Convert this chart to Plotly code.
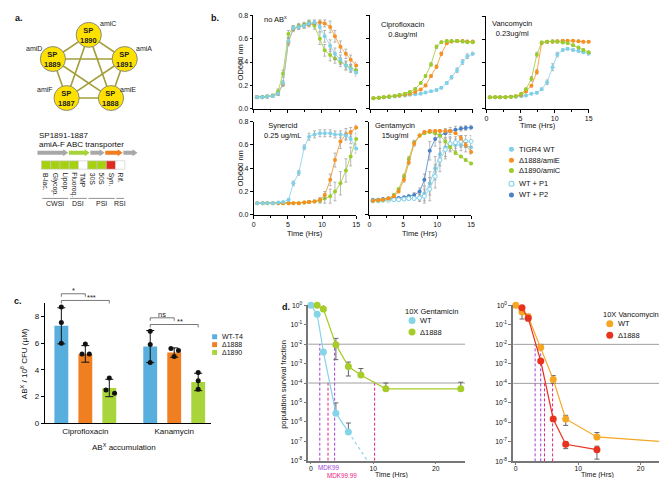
import math
import plotly.graph_objects as go

W, H = 667, 478
FONT = "Liberation Sans, Arial, sans-serif"

# ---------------- Panel a data ----------------
node_ids = ["1890", "1891", "1888", "1887", "1889"]
gene_names = ["amiC", "amiA", "amiE", "amiF", "amiD"]
operon_title = ["SP1891-1887", "amiA-F ABC transporter"]
operon_genes = ["gray", "green", "gray", "orange", "gray"]
drug_classes = ["B-lac.", "Glycop.", "Lipop.", "Fluoroq.", "TMP", "30S", "50S", "Syn.", "Rif."]
class_status = ["sens", "sens", "sens", "sens", "none", "sens", "sens", "syn", "none"]
class_groups = ["CWSI", "DSI", "PSI", "RSI"]
group_sizes = [3, 2, 3, 1]

# ---------------- Panel b data (OD600) ----------------
T = [0.5, 1.3, 2.0, 2.8, 3.6, 4.3, 5.1, 5.8, 6.6, 7.4, 8.1, 8.9, 9.7, 10.4, 11.2, 11.9, 12.7, 13.5, 14.2, 15.0]

noab_wt = [0.10, 0.10, 0.105, 0.11, 0.13, 0.22, 0.58, 0.69, 0.70, 0.71, 0.73, 0.74, 0.70, 0.62, 0.54, 0.47, 0.42, 0.37, 0.34, 0.31]
noab_d1888 = [0.10, 0.10, 0.105, 0.11, 0.13, 0.21, 0.57, 0.68, 0.70, 0.71, 0.72, 0.73, 0.74, 0.73, 0.70, 0.62, 0.53, 0.47, 0.42, 0.37]
noab_d1890 = [0.10, 0.10, 0.105, 0.115, 0.15, 0.30, 0.64, 0.69, 0.71, 0.72, 0.74, 0.71, 0.60, 0.50, 0.46, 0.43, 0.40, 0.37, 0.35, 0.33]
noab_wt_err = [0.01, 0.01, 0.01, 0.01, 0.015, 0.02, 0.03, 0.02, 0.02, 0.02, 0.02, 0.02, 0.04, 0.05, 0.05, 0.05, 0.04, 0.04, 0.03, 0.03]
noab_d1888_err = [0.01, 0.01, 0.01, 0.01, 0.015, 0.02, 0.03, 0.02, 0.02, 0.02, 0.02, 0.02, 0.02, 0.03, 0.05, 0.05, 0.05, 0.04, 0.04, 0.03]
noab_d1890_err = [0.01, 0.01, 0.01, 0.01, 0.02, 0.03, 0.03, 0.02, 0.02, 0.02, 0.02, 0.03, 0.05, 0.05, 0.05, 0.04, 0.04, 0.03, 0.03, 0.03]

cipro_wt = [0.09, 0.095, 0.10, 0.10, 0.105, 0.11, 0.115, 0.12, 0.125, 0.13, 0.14, 0.15, 0.16, 0.18, 0.22, 0.27, 0.33, 0.40, 0.45, 0.47]
cipro_d1888 = [0.09, 0.095, 0.10, 0.105, 0.11, 0.115, 0.12, 0.13, 0.145, 0.165, 0.20, 0.28, 0.36, 0.47, 0.56, 0.575, 0.58, 0.58, 0.575, 0.575]
cipro_d1890 = [0.09, 0.095, 0.10, 0.105, 0.11, 0.12, 0.13, 0.145, 0.17, 0.22, 0.28, 0.38, 0.53, 0.57, 0.58, 0.58, 0.58, 0.575, 0.57, 0.57]
cipro_wt_err = [0.005, 0.005, 0.005, 0.005, 0.005, 0.005, 0.005, 0.005, 0.005, 0.005, 0.005, 0.005, 0.01, 0.01, 0.01, 0.015, 0.02, 0.02, 0.02, 0.015]
cipro_d1888_err = [0.005, 0.005, 0.005, 0.005, 0.005, 0.005, 0.005, 0.005, 0.005, 0.01, 0.01, 0.01, 0.015, 0.015, 0.01, 0.01, 0.01, 0.01, 0.01, 0.01]
cipro_d1890_err = [0.005, 0.005, 0.005, 0.005, 0.005, 0.005, 0.005, 0.005, 0.01, 0.01, 0.01, 0.015, 0.015, 0.01, 0.01, 0.01, 0.01, 0.01, 0.01, 0.01]

vanco_wt = [0.10, 0.10, 0.10, 0.10, 0.105, 0.105, 0.11, 0.115, 0.13, 0.14, 0.17, 0.23, 0.36, 0.47, 0.51, 0.52, 0.51, 0.50, 0.49, 0.48]
vanco_d1888 = [0.10, 0.10, 0.10, 0.10, 0.105, 0.11, 0.12, 0.15, 0.20, 0.32, 0.57, 0.58, 0.58, 0.585, 0.59, 0.59, 0.59, 0.585, 0.58, 0.58]
vanco_d1890 = [0.10, 0.10, 0.10, 0.10, 0.105, 0.11, 0.13, 0.17, 0.26, 0.47, 0.575, 0.58, 0.585, 0.58, 0.575, 0.57, 0.55, 0.53, 0.51, 0.49]
vanco_wt_err = [0.005, 0.005, 0.005, 0.005, 0.005, 0.005, 0.005, 0.005, 0.005, 0.01, 0.01, 0.02, 0.03, 0.02, 0.01, 0.01, 0.01, 0.01, 0.01, 0.015]
vanco_d1888_err = [0.005, 0.005, 0.005, 0.005, 0.005, 0.005, 0.005, 0.01, 0.01, 0.02, 0.01, 0.01, 0.01, 0.01, 0.01, 0.01, 0.01, 0.01, 0.01, 0.01]
vanco_d1890_err = [0.005, 0.005, 0.005, 0.005, 0.005, 0.005, 0.01, 0.01, 0.02, 0.02, 0.01, 0.01, 0.01, 0.01, 0.01, 0.01, 0.01, 0.01, 0.01, 0.01]

syn_wt = [0.10, 0.10, 0.10, 0.10, 0.105, 0.11, 0.13, 0.27, 0.36, 0.58, 0.67, 0.69, 0.70, 0.70, 0.70, 0.69, 0.69, 0.68, 0.65, 0.57]
syn_d1888 = [0.10, 0.10, 0.10, 0.10, 0.10, 0.10, 0.10, 0.10, 0.10, 0.105, 0.11, 0.115, 0.13, 0.17, 0.30, 0.47, 0.63, 0.69, 0.71, 0.75]
syn_d1890 = [0.10, 0.10, 0.10, 0.10, 0.10, 0.10, 0.10, 0.10, 0.10, 0.105, 0.11, 0.115, 0.12, 0.14, 0.16, 0.20, 0.27, 0.38, 0.50, 0.65]
syn_wt_err = [0.005, 0.005, 0.005, 0.005, 0.005, 0.005, 0.01, 0.02, 0.02, 0.02, 0.03, 0.03, 0.03, 0.03, 0.03, 0.03, 0.03, 0.03, 0.04, 0.04]
syn_d1888_err = [0.005, 0.005, 0.005, 0.005, 0.005, 0.005, 0.005, 0.005, 0.005, 0.005, 0.01, 0.01, 0.02, 0.03, 0.05, 0.06, 0.06, 0.05, 0.04, 0.02]
syn_d1890_err = [0.005, 0.005, 0.005, 0.005, 0.005, 0.005, 0.005, 0.005, 0.005, 0.005, 0.01, 0.01, 0.02, 0.04, 0.06, 0.08, 0.1, 0.1, 0.08, 0.05]

genta_wt = [0.12, 0.12, 0.125, 0.125, 0.13, 0.13, 0.135, 0.14, 0.14, 0.15, 0.18, 0.27, 0.40, 0.52, 0.58, 0.60, 0.60, 0.60, 0.59, 0.58]
genta_d1888 = [0.12, 0.125, 0.13, 0.14, 0.16, 0.20, 0.30, 0.45, 0.61, 0.68, 0.71, 0.72, 0.72, 0.72, 0.72, 0.72, 0.70, 0.66, 0.60, 0.54]
genta_d1890 = [0.12, 0.125, 0.13, 0.14, 0.17, 0.22, 0.33, 0.48, 0.62, 0.68, 0.70, 0.71, 0.70, 0.68, 0.63, 0.58, 0.53, 0.50, 0.47, 0.44]
genta_p1 = [0.12, 0.12, 0.125, 0.125, 0.13, 0.13, 0.135, 0.14, 0.14, 0.145, 0.16, 0.22, 0.33, 0.47, 0.56, 0.61, 0.62, 0.63, 0.63, 0.63]
genta_p2 = [0.13, 0.13, 0.135, 0.14, 0.14, 0.145, 0.15, 0.16, 0.17, 0.20, 0.30, 0.55, 0.65, 0.68, 0.70, 0.72, 0.73, 0.74, 0.745, 0.75]
genta_wt_err = [0.005, 0.005, 0.005, 0.005, 0.005, 0.005, 0.005, 0.01, 0.01, 0.03, 0.06, 0.10, 0.10, 0.10, 0.08, 0.06, 0.05, 0.05, 0.05, 0.05]
genta_d1888_err = [0.005, 0.005, 0.005, 0.01, 0.01, 0.01, 0.02, 0.02, 0.02, 0.01, 0.01, 0.01, 0.01, 0.01, 0.01, 0.01, 0.01, 0.02, 0.02, 0.02]
genta_d1890_err = [0.005, 0.005, 0.005, 0.01, 0.01, 0.01, 0.02, 0.02, 0.02, 0.01, 0.01, 0.01, 0.01, 0.01, 0.01, 0.01, 0.01, 0.01, 0.01, 0.01]
genta_p1_err = [0.005, 0.005, 0.005, 0.005, 0.005, 0.005, 0.005, 0.01, 0.01, 0.03, 0.06, 0.10, 0.10, 0.10, 0.08, 0.06, 0.05, 0.05, 0.05, 0.05]
genta_p2_err = [0.005, 0.005, 0.005, 0.005, 0.005, 0.005, 0.005, 0.01, 0.02, 0.03, 0.05, 0.08, 0.06, 0.05, 0.04, 0.03, 0.03, 0.02, 0.02, 0.02]

b_legend = ["TIGR4 WT", "Δ1888/amiE", "Δ1890/amiC", "WT + P1", "WT + P2"]

# ---------------- Panel c data ----------------
c_strains = ["WT-T4", "Δ1888", "Δ1890"]
c_abx = ["Ciprofloxacin", "Kanamycin"]
c_mean_wt = [7.3, 5.75]
c_mean_d1888 = [5.2, 5.3]
c_mean_d1890 = [2.65, 3.1]
c_sd_wt = [1.35, 1.2]
c_sd_d1888 = [0.62, 0.35]
c_sd_d1890 = [0.65, 0.65]
c_rep_wt = [[8.7, 7.55, 6.0], [6.9, 5.9, 4.55]]
c_rep_d1888 = [[5.95, 5.2, 5.2], [5.6, 5.45, 5.0]]
c_rep_d1890 = [[3.4, 2.5, 2.25], [3.8, 3.2, 2.55]]
c_sig = [("*", 0, 0, 1), ("***", 0, 0, 2), ("ns", 1, 0, 1), ("**", 1, 0, 2)]

# ---------------- Panel d data (survival fraction) ----------------
gen_wt_t = [0, 1, 2, 4, 6]
gen_wt_y = [1.0, 0.35, 4e-3, 2.8e-6, 3e-7]
gen_wt_hi = [1.0, 0.35, 4e-3, 9.5e-6, 8.7e-7]
gen_wt_lo = [1.0, 0.35, 4e-3, 2.8e-6, 3e-7]
gen_mut_t = [1, 2, 4, 6, 8, 12, 24]
gen_mut_y = [1.0, 0.65, 9.5e-3, 7e-4, 2.6e-4, 5e-5, 5e-5]
gen_mut_hi = [1.0, 1.35, 2e-2, 1.2e-3, 5.6e-4, 1e-4, 1.1e-4]
gen_mut_lo = [1.0, 0.65, 1.6e-3, 2.3e-4, 2.6e-4, 5e-5, 5e-5]
gen_mdk99 = [1.42, 3.8]
gen_mdk9999 = [2.74, 10.2]

van_wt_t = [0, 1, 2, 4, 6, 8, 13, 24]
van_wt_y = [1.0, 0.46, 0.26, 7e-3, 1.6e-4, 1.5e-6, 1.8e-7, 1e-7]
van_wt_hi = [1.0, 0.46, 0.35, 1e-2, 2.5e-4, 2.3e-6, 3e-7, 1.6e-7]
van_wt_lo = [1.0, 0.2, 0.16, 7e-3, 1e-4, 7e-7, 1.8e-7, 2.5e-8]
van_mut_t = [1, 2, 4, 6, 8, 13]
van_mut_y = [0.75, 0.22, 1.4e-3, 1.5e-6, 7.5e-8, 4e-8]
van_mut_hi = [0.75, 0.22, 1.4e-3, 1.5e-6, 1e-7, 6e-8]
van_mut_lo = [0.75, 0.22, 1.4e-3, 1.5e-6, 4.5e-8, 1.3e-8]
van_mdk99 = [3.1, 4.0]
van_mdk9999 = [4.6, 5.9]
d_thresholds = [1e-2, 1e-4]

# ---------------- colours ----------------
C_CYAN = "#7fd1ea"
C_ORANGE = "#f7901e"
C_GREEN = "#9ccc2c"
C_BLUE = "#4a80c6"
C_ERR = "#9a9a9a"
CC_BLUE = "#58aedd"
CC_ORANGE = "#f07f22"
CC_GREEN = "#a8d53c"
D_CYAN = "#86d4e8"
D_GREEN = "#a6cc2a"
D_ORANGE = "#f6a623"
D_RED = "#e8321e"
PURPLE = "#a23fd6"
PINK = "#e8207f"


def xd(x0, x1):
    return [x0 / W, x1 / W]


def yd(y0, y1):
    return [1 - y1 / H, 1 - y0 / H]


fig = go.Figure()
shapes = []
annots = []


def txt(x, y, s, size=7.5, color="#111", xa="center", ya="middle", angle=0, ref=("x", "y")):
    annots.append(dict(x=x, y=y, text=s, showarrow=False, xref=ref[0], yref=ref[1],
                       xanchor=xa, yanchor=ya, textangle=angle,
                       font=dict(size=size, color=color, family=FONT)))


# ================= Panel a (schematic on overlay px axis) =================
cx, cy, R, xs, rn = 79.5, 58.9, 35.6, 1.07, 12.7
angles = [90, 18, -54, -126, 162]
pos = [(cx + xs * R * math.cos(math.radians(a)), cy - R * math.sin(math.radians(a))) for a in angles]
for i in range(len(pos)):
    for j in range(i + 1, len(pos)):
        fig.add_trace(go.Scatter(x=[pos[i][0], pos[j][0]], y=[pos[i][1], pos[j][1]], mode="lines",
                                 line=dict(color="#a39e3a", width=1.6), xaxis="x", yaxis="y",
                                 hoverinfo="skip", showlegend=False))
lab_off = [(19, -11.5), (19.5, -10.5), (17, -8.5), (-22, -8.5), (-19, -10.5)]
for (px, py), nid, gname, off in zip(pos, node_ids, gene_names, lab_off):
    shapes.append(dict(type="circle", xref="x", yref="y", x0=px - rn, x1=px + rn, y0=py - rn, y1=py + rn,
                       fillcolor="#ffe100", line=dict(color="#8c8c7a", width=1)))
    txt(px, py + 0.5, "<b>SP<br>" + nid + "</b>", size=7.5, color="#222")
    txt(px + off[0], py + off[1], gname, size=7, color="#222")

txt(27.5, 126, operon_title[0], size=8, xa="left")
txt(27.5, 135.5, operon_title[1], size=8, xa="left")
gene_len = [31.7, 21.7, 15, 18.3, 15]
gcol = {"gray": "#a8a8a8", "green": "#a6d33a", "orange": "#f07f22"}
gx = 27.7
ay = 143.5
for g, L in zip(operon_genes, gene_len):
    x0, x1 = gx, gx + L - 0.7
    hx = x1 - 5
    path = (f"M{x0},{ay-2} L{hx},{ay-2} L{hx},{ay-3.6} L{x1},{ay} L{hx},{ay+3.6} "
            f"L{hx},{ay+2} L{x0},{ay+2} Z")
    shapes.append(dict(type="path", xref="x", yref="y", path=path, fillcolor=gcol[g], line=dict(width=0)))
    gx += L

bx0, bw, by0, by1 = 31.7, 9.35, 151.7, 160.2
scol = {"sens": "#a6d10f", "syn": "#e02b1e", "none": "#ffffff"}
for k, (dc, st) in enumerate(zip(drug_classes, class_status)):
    x0 = bx0 + k * bw
    shapes.append(dict(type="rect", xref="x", yref="y", x0=x0, x1=x0 + bw, y0=by0, y1=by1,
                       fillcolor=scol[st], line=dict(color="#c8c8c8", width=0.6)))
    txt(x0 + bw / 2, by1 + 1.5, dc, size=6.8, xa="center", ya="top", angle=90, color="#222")
k0 = 0
for gname, n in zip(class_groups, group_sizes):
    x0 = bx0 + k0 * bw + 0.8
    x1 = bx0 + (k0 + n) * bw - 0.8
    shapes.append(dict(type="line", xref="x", yref="y", x0=x0, x1=x1, y0=190, y1=190,
                       line=dict(color="#777", width=0.8)))
    txt((x0 + x1) / 2, 195, gname, size=7, color="#222")
    k0 += n

# panel letters
txt(3, 6, "<b>a.</b>", size=9, xa="left")
txt(201, 6, "<b>b.</b>", size=9, xa="left")
txt(2, 295, "<b>c.</b>", size=9, xa="left")
txt(272, 301, "<b>d.</b>", size=9, xa="left")

# ================= Panel b =================
base = dict(showline=True, linecolor="black", linewidth=0.9, ticks="outside", ticklen=3, tickwidth=0.9,
            tickcolor="black", showgrid=False, zeroline=False, fixedrange=True,
            tickfont=dict(size=7, color="#111", family=FONT))

b_axes = {
    2: ((245.7, 349.3), (3.3, 98.7), True, False),
    3: ((363.3, 467.0), (3.3, 98.7), False, False),
    4: ((480.7, 584.0), (4.5, 98.7), False, True),
    5: ((246.0, 349.3), (111.7, 206.7), True, True),
    6: ((362.7, 465.3), (111.7, 206.7), False, True),
}
layout_axes = {}
for n, (xr, yr, ylab, xlab) in b_axes.items():
    layout_axes[f"xaxis{n}"] = dict(base, domain=xd(*xr), anchor=f"y{n}", range=[0, 15],
                                    tickvals=[0, 5, 10, 15], showticklabels=xlab,
                                    minor=dict(tickvals=[2.5, 7.5, 12.5], ticks="outside", ticklen=2,
                                               tickcolor="black", tickwidth=0.8))
    layout_axes[f"yaxis{n}"] = dict(base, domain=yd(*yr), anchor=f"x{n}", range=[0, 0.8],
                                    tickvals=[0, 0.2, 0.4, 0.6, 0.8],
                                    ticktext=["0.0", "0.2", "0.4", "0.6", "0.8"], showticklabels=ylab)


def add_b(n, y, err, color, open_=False):
    fig.add_trace(go.Scatter(
        x=T, y=y, xaxis=f"x{n}", yaxis=f"y{n}", mode="lines+markers",
        line=dict(color=color, width=0.8),
        marker=dict(size=4, color="white" if open_ else color, symbol="circle",
                    line=dict(color=color, width=1 if open_ else 0)),
        error_y=dict(type="data", array=err, color=C_ERR, thickness=0.7, width=1.5),
        hoverinfo="skip", showlegend=False, cliponaxis=False))


add_b(2, noab_d1888, noab_d1888_err, C_ORANGE)
add_b(2, noab_d1890, noab_d1890_err, C_GREEN)
add_b(2, noab_wt, noab_wt_err, C_CYAN)
add_b(3, cipro_wt, cipro_wt_err, C_CYAN)
add_b(3, cipro_d1888, cipro_d1888_err, C_ORANGE)
add_b(3, cipro_d1890, cipro_d1890_err, C_GREEN)
add_b(4, vanco_wt, vanco_wt_err, C_CYAN)
add_b(4, vanco_d1888, vanco_d1888_err, C_ORANGE)
add_b(4, vanco_d1890, vanco_d1890_err, C_GREEN)
add_b(5, syn_d1890, syn_d1890_err, C_GREEN)
add_b(5, syn_d1888, syn_d1888_err, C_ORANGE)
add_b(5, syn_wt, syn_wt_err, C_CYAN)
add_b(6, genta_p2, genta_p2_err, C_BLUE)
add_b(6, genta_wt, genta_wt_err, C_CYAN)
add_b(6, genta_p1, genta_p1_err, C_CYAN, open_=True)
add_b(6, genta_d1890, genta_d1890_err, C_GREEN)
add_b(6, genta_d1888, genta_d1888_err, C_ORANGE)

txt(254, 7.5, "no AB<sup>x</sup>", size=7.5, xa="left")
txt(372, 6, "Ciprofloxacin<br>0.8ug/ml", size=7.5, xa="left", ya="top")
txt(484.5, 5.5, "Vancomycin<br>0.23ug/ml", size=7.5, xa="left", ya="top")
txt(254, 109.5, "Synercid<br>0.25 ug/mL", size=7.5, xa="left", ya="top")
txt(366.5, 109.5, "Gentamycin<br>15ug/ml", size=7.5, xa="left", ya="top")
txt(232.5, 51, "OD600 nm", size=7.5, angle=-90)
txt(232.5, 159, "OD600 nm", size=7.5, angle=-90)
txt(298, 225.5, "Time (Hrs)", size=7.5)
txt(414, 225.5, "Time (Hrs)", size=7.5)
txt(532.5, 116, "Time (Hrs)", size=7.5)

leg_y = [140, 151, 161.5, 175, 186.5]
leg_col = [C_CYAN, C_ORANGE, C_GREEN, C_CYAN, C_BLUE]
leg_open = [False, False, False, True, False]
for name, yy, col, op in zip(b_legend, leg_y, leg_col, leg_open):
    fig.add_trace(go.Scatter(x=[506], y=[yy], xaxis="x", yaxis="y", mode="markers",
                             marker=dict(size=5, color="white" if op else col,
                                         line=dict(color=col, width=1.1 if op else 0)),
                             hoverinfo="skip", showlegend=False))
    txt(511.5, yy, name, size=7.5, xa="left")

# ================= Panel c =================
c_unit = 89.7          # px per category
c_step = 24.2 / c_unit  # spacing between strains
c_bw = 14 / c_unit
c_x0px, c_x1px = 35, 202.7
c_y0px, c_y1px = 296.7, 419.3
c_xr = [(c_x0px - 76) / c_unit, (c_x1px - 76) / c_unit]
c_yr = [0, 9]
layout_axes["xaxis7"] = dict(base, domain=xd(c_x0px, c_x1px), anchor="y7", range=c_xr,
                             tickvals=list(range(len(c_abx))), ticktext=c_abx, ticks="",
                             tickfont=dict(size=8, color="#111", family=FONT))
layout_axes["yaxis7"] = dict(base, domain=yd(c_y0px, c_y1px), anchor="x7", range=c_yr,
                             tickvals=[0, 2, 4, 6, 8], tickfont=dict(size=8, color="#111", family=FONT))

c_means = [c_mean_wt, c_mean_d1888, c_mean_d1890]
c_sds = [c_sd_wt, c_sd_d1888, c_sd_d1890]
c_reps = [c_rep_wt, c_rep_d1888, c_rep_d1890]
c_cols = [CC_BLUE, CC_ORANGE, CC_GREEN]
jit_px = [[[0, 0, 0], [0, 0, 0]], [[0, -3.3, 4], [-3.3, 4.3, 0]], [[0, -3.3, 5.3], [0, 0, 0]]]


def cpos(g, s):
    return g + (s - 1) * c_step


for s in range(3):
    xs_ = [cpos(g, s) for g in range(len(c_abx))]
    fig.add_trace(go.Bar(x=xs_, y=c_means[s], width=c_bw, marker=dict(color=c_cols[s], line=dict(width=0)),
                         xaxis="x7", yaxis="y7", hoverinfo="skip", showlegend=False))
for s in range(3):
    xs_ = [cpos(g, s) for g in range(len(c_abx))]
    fig.add_trace(go.Scatter(x=xs_, y=c_means[s], mode="markers", marker=dict(size=1, color="rgba(0,0,0,0)"),
                             error_y=dict(type="data", array=c_sds[s], color="#111", thickness=1, width=4),
                             xaxis="x7", yaxis="y7", hoverinfo="skip", showlegend=False, cliponaxis=False))
    dx, dy = [], []
    for g in range(len(c_abx)):
        for r, v in enumerate(c_reps[s][g]):
            dx.append(cpos(g, s) + jit_px[s][g][r] / c_unit)
            dy.append(v)
    fig.add_trace(go.Scatter(x=dx, y=dy, mode="markers", marker=dict(size=5, color="#111"),
                             xaxis="x7", yaxis="y7", hoverinfo="skip", showlegend=False, cliponaxis=False))


def c_px(xv, yv):
    px = c_x0px + (xv - c_xr[0]) / (c_xr[1] - c_xr[0]) * (c_x1px - c_x0px)
    py = c_y1px - (yv - c_yr[0]) / (c_yr[1] - c_yr[0]) * (c_y1px - c_y0px)
    return px, py


sig_y = [9.7, 9.2, 7.9, 7.4]
for (lab, g, s0, s1), yv in zip(c_sig, sig_y):
    xa_, py = c_px(cpos(g, s0), yv)
    xb_, _ = c_px(cpos(g, s1), yv)
    shapes.append(dict(type="path", xref="x", yref="y",
                       path=f"M{xa_},{py+3} L{xa_},{py} L{xb_},{py} L{xb_},{py+3}",
                       line=dict(color="#555", width=0.8)))
    txt((xa_ + xb_) / 2 + (6 if s1 == 2 else 0), py - 3.5, lab, size=7.5, color="#222")

txt(115, 443, "AB<sup>X</sup> accumulation", size=8)
txt(14, 358, "AB<sup>X</sup> / 10<sup>8</sup> CFU (µM)", size=8, angle=-90)
for name, yy, col in zip(c_strains, [331, 339, 347], c_cols):
    shapes.append(dict(type="rect", xref="x", yref="y", x0=204, x1=209, y0=yy - 2.5, y1=yy + 2.5,
                       fillcolor=col, line=dict(width=0)))
    txt(211.5, yy, name, size=7, xa="left")

# ================= Panel d =================
dtickv = [10 ** (-k) for k in range(0, 9)]
dtickt = [f"10<sup>{-k}</sup>" if k else "10<sup>0</sup>" for k in range(0, 9)]
d_axes = {8: ((301, 459.3), (299, 457.3)), 9: ((507.7, 666), (299, 458))}
for n, (xr, yr) in d_axes.items():
    layout_axes[f"xaxis{n}"] = dict(base, domain=xd(*xr), anchor=f"y{n}", range=[-0.42, 24.7],
                                    tickvals=[0, 10, 20], linecolor="#777", linewidth=1.5,
                                    tickcolor="#777", ticklen=2, ticklabelstandoff=-2,
                                    tickfont=dict(size=6.8, color="#111", family=FONT))
    layout_axes[f"yaxis{n}"] = dict(base, domain=yd(*yr), anchor=f"x{n}", type="log", range=[-8, 0],
                                    tickvals=dtickv, ticktext=dtickt, linecolor="#777", linewidth=1.5,
                                    tickcolor="#777", tickfont=dict(size=6.8, color="#111", family=FONT))


def hline(n, yv):
    fig.add_trace(go.Scatter(x=[-0.42, 24.7], y=[yv, yv], mode="lines", line=dict(color="#a0a0a0", width=1),
                             xaxis=f"x{n}", yaxis=f"y{n}", hoverinfo="skip", showlegend=False))


def vline(n, xv, ytop, col):
    fig.add_trace(go.Scatter(x=[xv, xv], y=[1e-8, ytop], mode="lines",
                             line=dict(color=col, width=1, dash="3px,2px"),
                             xaxis=f"x{n}", yaxis=f"y{n}", hoverinfo="skip", showlegend=False))


def dseries(n, t, y, hi, lo, col):
    fig.add_trace(go.Scatter(
        x=t, y=y, mode="lines+markers", xaxis=f"x{n}", yaxis=f"y{n}",
        line=dict(color=col, width=1.2), marker=dict(size=7, color=col),
        error_y=dict(type="data", symmetric=False, array=[h - v for h, v in zip(hi, y)],
                     arrayminus=[v - l for v, l in zip(y, lo)], color="#666", thickness=1, width=2.5),
        hoverinfo="skip", showlegend=False, cliponaxis=False))


for n in (8, 9):
    for th in d_thresholds:
        hline(n, th)
for xv in gen_mdk99:
    vline(8, xv, d_thresholds[0], PURPLE)
for xv in gen_mdk9999:
    vline(8, xv, d_thresholds[1], PINK)
for xv in van_mdk99:
    vline(9, xv, d_thresholds[0], PURPLE)
for xv in van_mdk9999:
    vline(9, xv, d_thresholds[1], PINK)

# WT gentamicin extrapolated (dotted) from last two points down to the axis floor
lg1, lg2 = math.log10(gen_wt_y[-2]), math.log10(gen_wt_y[-1])
slope = (lg2 - lg1) / (gen_wt_t[-1] - gen_wt_t[-2])
t_end = gen_wt_t[-1] + (-8 - lg2) / slope
fig.add_trace(go.Scatter(x=[gen_wt_t[-1], t_end], y=[gen_wt_y[-1], 1e-8], mode="lines",
                         line=dict(color=D_CYAN, width=1.2, dash="dot"), xaxis="x8", yaxis="y8",
                         hoverinfo="skip", showlegend=False))
dseries(8, gen_wt_t, gen_wt_y, gen_wt_hi, gen_wt_lo, D_CYAN)
dseries(8, gen_mut_t, gen_mut_y, gen_mut_hi, gen_mut_lo, D_GREEN)
dseries(9, van_wt_t, van_wt_y, van_wt_hi, van_wt_lo, D_ORANGE)
dseries(9, van_mut_t, van_mut_y, van_mut_hi, van_mut_lo, D_RED)

txt(276.5, 380, "population survival fraction", size=7.5, angle=-90)
txt(308.5, 464, "MDK99", size=6.3, color=PURPLE, xa="left")
txt(318, 472.5, "MDK99.99", size=6.3, color=PINK, xa="left")
txt(385, 472, "Time (Hrs)", size=7)
txt(593, 472, "Time (Hrs)", size=7)

for title, tx, ty, names, cols in [("10X Gentamicin", 396.5, 305, ["WT", "Δ1888"], [D_CYAN, D_GREEN]),
                                   ("10X Vancomycin", 596, 308.3, ["WT", "Δ1888"], [D_ORANGE, D_RED])]:
    txt(tx, ty, title, size=7.5, xa="left")
    for k, (nm, col) in enumerate(zip(names, cols)):
        yy = ty + 9.5 + k * 11.7
        fig.add_trace(go.Scatter(x=[tx + 9.2], y=[yy], xaxis="x", yaxis="y", mode="markers",
                                 marker=dict(size=7, color=col), hoverinfo="skip", showlegend=False))
        txt(tx + 15, yy, nm, size=7.5, xa="left")

# ================= layout =================
fig.update_layout(
    width=W, height=H, margin=dict(l=0, r=0, t=0, b=0),
    paper_bgcolor="white", plot_bgcolor="rgba(0,0,0,0)",
    font=dict(family=FONT, size=7.5, color="#111"),
    showlegend=False,
    xaxis=dict(domain=[0, 1], range=[0, W], visible=False, fixedrange=True),
    yaxis=dict(domain=[0, 1], range=[H, 0], visible=False, fixedrange=True),
    shapes=shapes, annotations=annots,
    **layout_axes,
)
fig.write_html("out.html")
